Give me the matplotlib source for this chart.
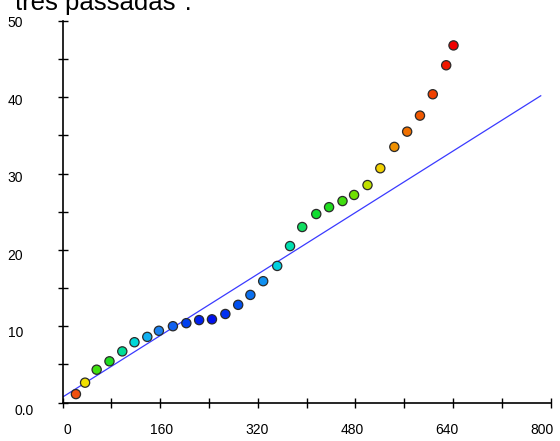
import matplotlib
matplotlib.use("Agg")
import matplotlib.pyplot as plt

# distance along the run vs. cumulative value
x_vals = [22, 37, 56, 77, 98, 118, 139, 158, 181, 203, 224, 245, 267, 288, 308,
          329, 352, 373, 393, 416, 437, 459, 478, 500, 521, 544, 565, 586, 607,
          629, 641]
y_vals = [1.1, 2.6, 4.3, 5.4, 6.7, 7.9, 8.6, 9.4, 10.0, 10.4, 10.8, 10.9, 11.6,
          12.8, 14.1, 15.9, 17.9, 20.5, 23.0, 24.7, 25.6, 26.4, 27.2, 28.5,
          30.7, 33.5, 35.5, 37.6, 40.4, 44.2, 46.8]
point_colors = ['#f05010', '#f0e000', '#40e010', '#20dd20', '#00dd99',
                '#00d8d8', '#10b0f0', '#1a80f0', '#1060f0', '#0040f0',
                '#0020f0', '#0010f0', '#0030f0', '#0050f0', '#0a70f0',
                '#1090f0', '#00d0e0', '#00e0b0', '#10dd60', '#10dd30',
                '#20dd20', '#40dd10', '#70e000', '#c0e000', '#f0d000',
                '#f09000', '#f07000', '#f05800', '#f04000', '#f01800',
                '#f00000']

# fitted trend line endpoints
fit_x = [0, 784]
fit_y = [0.7, 40.2]

x_tick_labels = ['0', '160', '320', '480', '640', '800']
y_tick_labels = ['0.0', '10', '20', '30', '40', '50']
title_text = 'três passadas".'

W, H = 560, 441
fig = plt.figure(figsize=(W / 100, H / 100), dpi=100)
plt.rcParams['font.family'] = ['Liberation Sans', 'DejaVu Sans']

left, right, top, bottom = 62.5, 550.5, 21.0, 402.5
ax = fig.add_axes([left / W, 1 - bottom / H, (right - left) / W, (bottom - top) / H])
ax.set_xlim(0, 800)
ax.set_ylim(0, 50)
for s in ('top', 'right'):
    ax.spines[s].set_visible(False)
for s in ('left', 'bottom'):
    ax.spines[s].set_linewidth(1.2)
    ax.spines[s].set_color('black')

ax.set_xticks(range(0, 801, 80))
ax.set_yticks(range(0, 51, 5))
ax.tick_params(direction='inout', length=7, width=1.0, color='black',
               labelbottom=False, labelleft=False)

ax.plot(fit_x, fit_y, color='#3a3aff', linewidth=0.9, zorder=2)
ax.scatter(x_vals, y_vals, s=44, c=point_colors, edgecolors='#2a2a2a',
           linewidths=0.9, zorder=3, clip_on=False)

# axis labels drawn as figure text
for lab in x_tick_labels:
    v = float(lab)
    px = 67 + v * 0.594
    fig.text(px / W, 1 - 430 / H, lab, ha='center', va='center', fontsize=10)
for lab in y_tick_labels:
    v = float(lab)
    py = 23 + (50 - v) * 7.76
    px = 24 if '.' in lab else 15.5
    fig.text(px / W, 1 - py / H, lab, ha='center', va='center', fontsize=10)

fig.text(15 / W, 1 - 10 / H, title_text, ha='left', va='baseline', fontsize=18.5)

fig.savefig('out.png', dpi=100, facecolor='white')
